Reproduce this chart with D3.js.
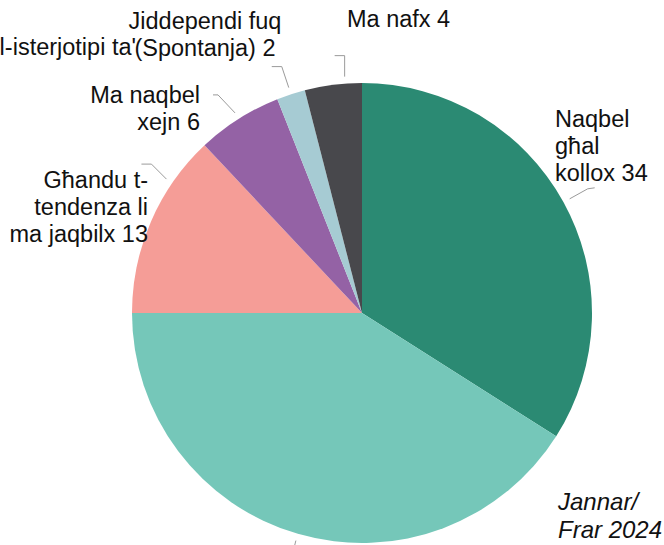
<!DOCTYPE html>
<html>
<head>
<meta charset="utf-8">
<script src="https://cdn.jsdelivr.net/npm/d3@7"></script>
<style>
  html, body { margin: 0; padding: 0; background: #fff; }
  svg { display: block; font-family: "Liberation Sans", Arial, sans-serif; }
</style>
</head>
<body>
<svg id="chart" width="664" height="545"></svg>
<script>
// slice data, clockwise from 12 o'clock
var categories = ["Naqbel għal kollox", "Naqbel", "Għandu t-tendenza li ma jaqbilx", "Ma naqbel xejn", "Jiddependi fuq l-isterjotipi ta' (Spontanja)", "Ma nafx"];
var values = [34, 41, 13, 6, 2, 4];
var colors = ["#2b8a73", "#75c7b9", "#f59d97", "#9462a5", "#a6cbd3", "#48484c"];
var title = ["Jannar/", "Frar 2024"];

// label layout: text lines, anchor, x, first baseline, leader elbow offsets, angle nudge (deg)
var labelLayout = [
  {lines: ["Naqbel", "għal", "kollox 34"], anchor: "start", x: 555, y: 127, leg: [[18, -10], [25, -11]], nudge: 0},
  {lines: [], anchor: "start", x: 0, y: 0, leg: [[-3, 12]], nudge: 0},
  {lines: ["Għandu t-", "tendenza li", "ma jaqbilx 13"], anchor: "end", x: 148, y: 188, leg: [[-15, -15], [-25, -15]], nudge: 11},
  {lines: ["Ma naqbel", "xejn 6"], anchor: "end", x: 200, y: 103, leg: [[-17, -18], [-22, -18]], nudge: 0},
  {lines: ["Jiddependi fuq", "(Spontanja) 2"], anchor: "middle", x: 205, y: 29, leg: [[-7, -21], [-17, -21]], nudge: 0},
  {lines: ["Ma nafx 4"], anchor: "start", x: 347, y: 27, leg: [[0, -21], [-10, -21]], nudge: 3}
];

var cx = 362, cy = 313, radius = 230, lineH = 27;
var svg = d3.select("#chart");

var pie = d3.pie().sort(null).value(function(d) { return d; });
var arcs = pie(values);
var arc = d3.arc().innerRadius(0).outerRadius(radius);

var g = svg.append("g").attr("transform", "translate(" + cx + "," + cy + ")");

g.selectAll("path.slice")
  .data(arcs)
  .enter().append("path")
  .attr("class", "slice")
  .attr("fill", function(d, i) { return colors[i]; })
  .attr("d", arc);

// leader lines + labels
arcs.forEach(function(d, i) {
  var lay = labelLayout[i];
  var a = (d.startAngle + d.endAngle) / 2 + lay.nudge * Math.PI / 180;
  var r = radius + 7;
  var sx = cx + r * Math.sin(a), sy = cy - r * Math.cos(a);
  var pts = [[sx, sy]];
  lay.leg.forEach(function(o) { pts.push([sx + o[0], sy + o[1]]); });
  svg.append("path")
    .attr("d", d3.line()(pts))
    .attr("fill", "none")
    .attr("stroke", "#9a9a9a")
    .attr("stroke-width", 1);

  lay.lines.forEach(function(t, j) {
    svg.append("text")
      .attr("x", lay.x)
      .attr("y", lay.y + j * lineH)
      .attr("text-anchor", lay.anchor)
      .style("font-size", "23.5px")
      .attr("fill", "#111")
      .text(t);
  });
});

// the overlapping second line of the "Jiddependi" label (runs off the left edge)
svg.append("text")
  .attr("x", 136)
  .attr("y", 55)
  .attr("text-anchor", "end")
  .style("font-size", "23.5px")
  .attr("fill", "#111")
  .text("l-isterjotipi ta'");

svg.selectAll("text.title")
  .data(title)
  .enter().append("text")
  .attr("class", "title")
  .attr("x", 558)
  .attr("y", function(d, i) { return 510 + i * 28; })
  .style("font-size", "24px")
  .style("font-style", "italic")
  .attr("fill", "#111")
  .text(function(d) { return d; });
</script>
</body>
</html>
